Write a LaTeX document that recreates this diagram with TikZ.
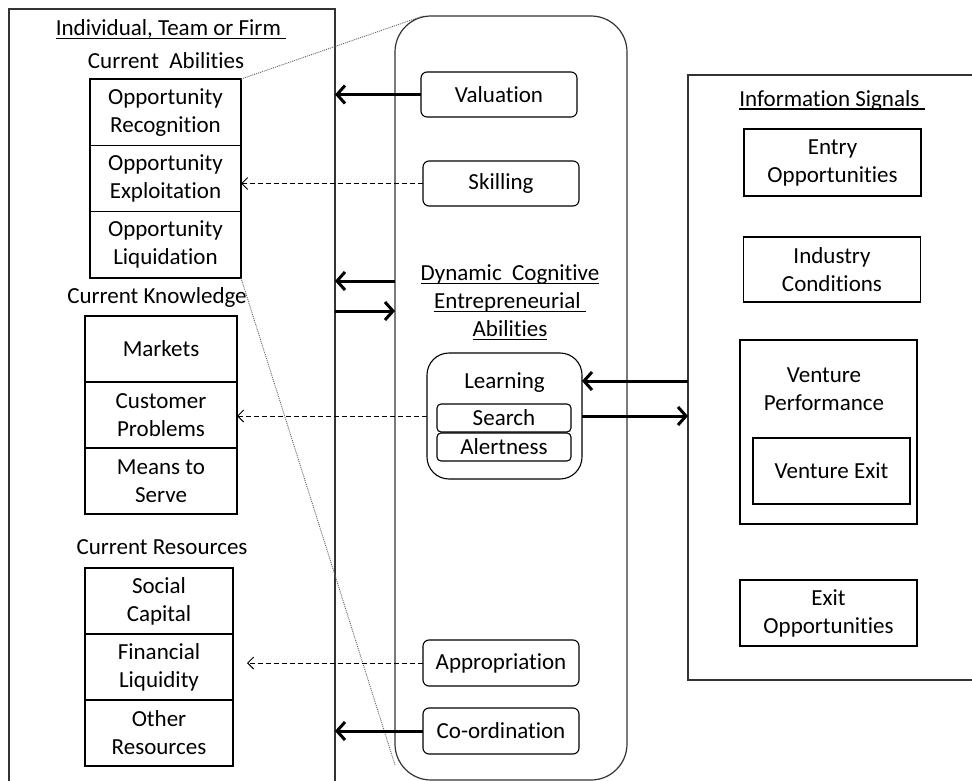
\documentclass[tikz,border=0pt]{standalone}
\usepackage{fontspec}
\setmainfont{Carlito}[Ligatures=CommonOff]
\usetikzlibrary{arrows.meta,positioning,calc}
\tikzstyle{panel} = [draw=black!80, line width=1.2pt, rectangle, inner sep=0pt, outer sep=0pt]
\tikzstyle{block} = [draw, rectangle, line width=1.1pt, align=center, inner sep=0pt, outer sep=0pt]
\tikzstyle{rblock} = [block, rounded corners=6pt]
\tikzstyle{connector} = [-{Straight Barb[length=8pt,width=18pt]}, line width=3pt]
\tikzstyle{weak} = [-{Straight Barb[length=6pt,width=12pt]}, line width=0.9pt, dash pattern=on 5pt off 3pt]
\tikzstyle{zoomline} = [black!60, line width=0.9pt, dash pattern=on 1pt off 1pt]
\newcommand{\undl}[1]{\setbox0=\hbox{#1}\rlap{\rule[-3.5pt]{\wd0}{1.1pt}}\box0}

\begin{document}
\begin{tikzpicture}[x=1pt, y=-1pt, font=\fontsize{23}{28}\selectfont]
	\useasboundingbox (0,0) rectangle (972,781);
	\clip (0,0) rectangle (972,781);
	% the three panels
	\node[panel, minimum width=326pt, minimum height=800pt] (firm) at (172,409) {};
	\node[panel, rounded corners=36pt, minimum width=232pt, minimum height=764pt] (dcea) at (511,398) {};
	\node[panel, minimum width=320pt, minimum height=605pt] (signals) at (848,377.5) {};
	
	% individual, team or firm
	\node (firmtitle) at (171,29) {\undl{Individual, Team or Firm\ }};
	\node (abiltitle) at (166,61) {Current\ \ Abilities};
	\node[block, minimum width=151pt, minimum height=66.3pt] (recog) at (165.5,112.2) {Opportunity\\Recognition};
	\node[block, minimum width=151pt, minimum height=66.3pt, below=0pt of recog] (exploit) {Opportunity\\Exploitation};
	\node[block, minimum width=151pt, minimum height=66.3pt, below=0pt of exploit] (liquid) {Opportunity\\Liquidation};
	\node (knowtitle) at (157,297) {Current Knowledge};
	\node[block, minimum width=152pt, minimum height=66pt] (markets) at (161,349) {Markets};
	\node[block, minimum width=152pt, minimum height=66pt, below=0pt of markets] (customers) {Customer\\Problems};
	\node[block, minimum width=152pt, minimum height=66pt, below=0pt of customers] (means) {Means to\\Serve};
	\node (restitle) at (162,547) {Current Resources};
	\node[block, minimum width=148pt, minimum height=66pt] (social) at (159,601) {Social\\Capital};
	\node[block, minimum width=148pt, minimum height=66pt, below=0pt of social] (finance) {Financial\\Liquidity};
	\node[block, minimum width=148pt, minimum height=66pt, below=0pt of finance] (other) {Other\\Resources};
	
	% dynamic cognitive entrepreneurial abilities
	\node[rblock, minimum width=156pt, minimum height=45pt] (val) at (499,94.5) {Valuation};
	\node[rblock, minimum width=156pt, minimum height=45pt] (skill) at (501,183.5) {Skilling};
	\node[align=center] (dcetitle) at (510,302) {\undl{Dynamic\ \ Cognitive}\\\undl{Entrepreneurial\ }\\\undl{Abilities}};
	\node[block, rounded corners=22pt, minimum width=155pt, minimum height=126pt] (learn) at (504.5,416) {};
	\node (learntxt) at (504.5,383) {Learning};
	\node[rblock, rounded corners=4pt, minimum width=134pt, minimum height=28pt] (search) at (504,418) {Search};
	\node[rblock, rounded corners=4pt, minimum width=134pt, minimum height=28pt, below=1pt of search] (alert) {Alertness};
	\node[rblock, minimum width=156pt, minimum height=46pt] (approp) at (501,663) {Appropriation};
	\node[rblock, minimum width=156pt, minimum height=46pt] (coord) at (501,731) {Co-ordination};
	
	% information signals
	\node (sigtitle) at (832,100) {\undl{Information Signals\ }};
	\node[block, minimum width=177pt, minimum height=67pt] (entry) at (832.5,162.5) {Entry\\Opportunities};
	\node[block, minimum width=177pt, minimum height=65pt] (industry) at (832,269.5) {Industry\\Conditions};
	\node[block, minimum width=177pt, minimum height=184pt] (perf) at (828.5,432) {};
	\node[align=center] (perftxt) at (824,389) {Venture\\Performance};
	\node[block, minimum width=157pt, minimum height=66pt] (vexit) at (831.5,471) {Venture Exit};
	\node[block, minimum width=177pt, minimum height=66pt] (exitopp) at (828.5,613) {Exit\\Opportunities};
	
	\draw[zoomline] (recog.north east) -- ($(dcea.north west)+(28,0)$);
	\draw[zoomline] (liquid.south east) -- ($(dcea.south west)+(0,-15)$);
	
	\draw[connector] (val.west) -- (firm.east |- val.west);
	\draw[connector] (dcea.west |- 0,281) -- (firm.east |- 0,281);
	\draw[connector] (firm.east |- 0,311) -- (dcea.west |- 0,311);
	\draw[connector] (coord.west) -- (firm.east |- coord.west);
	\draw[connector] (signals.west |- 0,381) -- (learn.east |- 0,381);
	\draw[connector] (learn.east |- 0,416) -- (signals.west |- 0,416);
	\draw[weak] (skill.west) -- (exploit.east |- skill.west);
	\draw[weak] (learn.west) -- (customers.east |- learn.west);
	\draw[weak] (approp.west) -- ($(finance.east |- approp.west)+(14,0)$);
\end{tikzpicture}
\end{document}
